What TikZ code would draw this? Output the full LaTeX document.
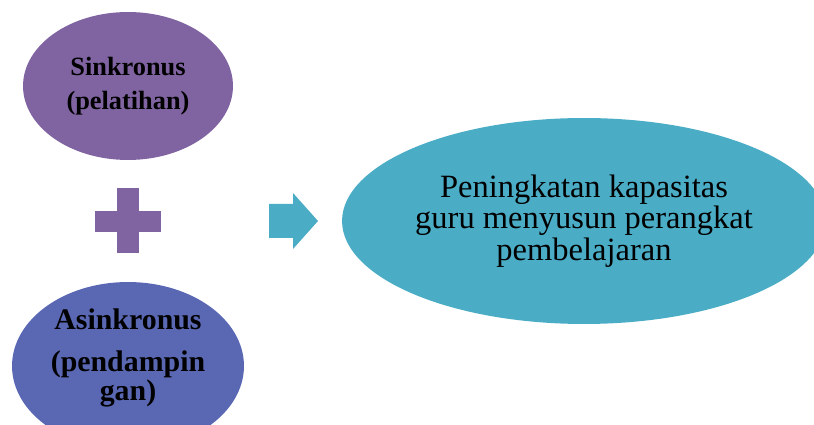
\documentclass[tikz,border=0pt]{standalone}
\usepackage{fontspec}
\setmainfont{Liberation Serif}
\usetikzlibrary{shapes.geometric}

\definecolor{ungu}{RGB}{128,100,162}
\definecolor{nila}{RGB}{90,104,180}
\definecolor{tosca}{RGB}{75,172,198}

\tikzset{
    bulat/.style={ellipse, inner sep=0pt, align=center},
}

\begin{document}
\begin{tikzpicture}[x=0.02cm, y=0.02cm]
    \useasboundingbox (0,0) rectangle (814,425);
    \clip (0,0) rectangle (814,425);
    % lingkaran kiri
    \node[bulat, fill=ungu, minimum width=4.2cm, minimum height=2.96cm,
          font=\bfseries\fontsize{15}{19}\selectfont] (sinkron) at (128,339)
          {Sinkronus\\(pelatihan)};
    \node[bulat, fill=nila, minimum width=4.64cm, minimum height=3.36cm,
          text depth=13pt,
          font=\bfseries\fontsize{17}{15}\selectfont] (asinkron) at (128,59)
          {Asinkronus\\[9pt](pendampin\\gan)};
    % tanda tambah
    \fill[ungu] (117,172) rectangle (139,237);
    \fill[ungu] (95,193) rectangle (161,214);
    % panah
    \fill[tosca] (269,187) -- (293,187) -- (293,176) -- (318,204)
        -- (293,232) -- (293,221) -- (269,221) -- cycle;
    % hasil
    \node[bulat, fill=tosca, minimum width=9.68cm, minimum height=4.12cm,
          font=\fontsize{18.5}{18}\selectfont] (hasil) at (584,204)
          {Peningkatan kapasitas\\guru menyusun perangkat\\pembelajaran};
\end{tikzpicture}
\end{document}
